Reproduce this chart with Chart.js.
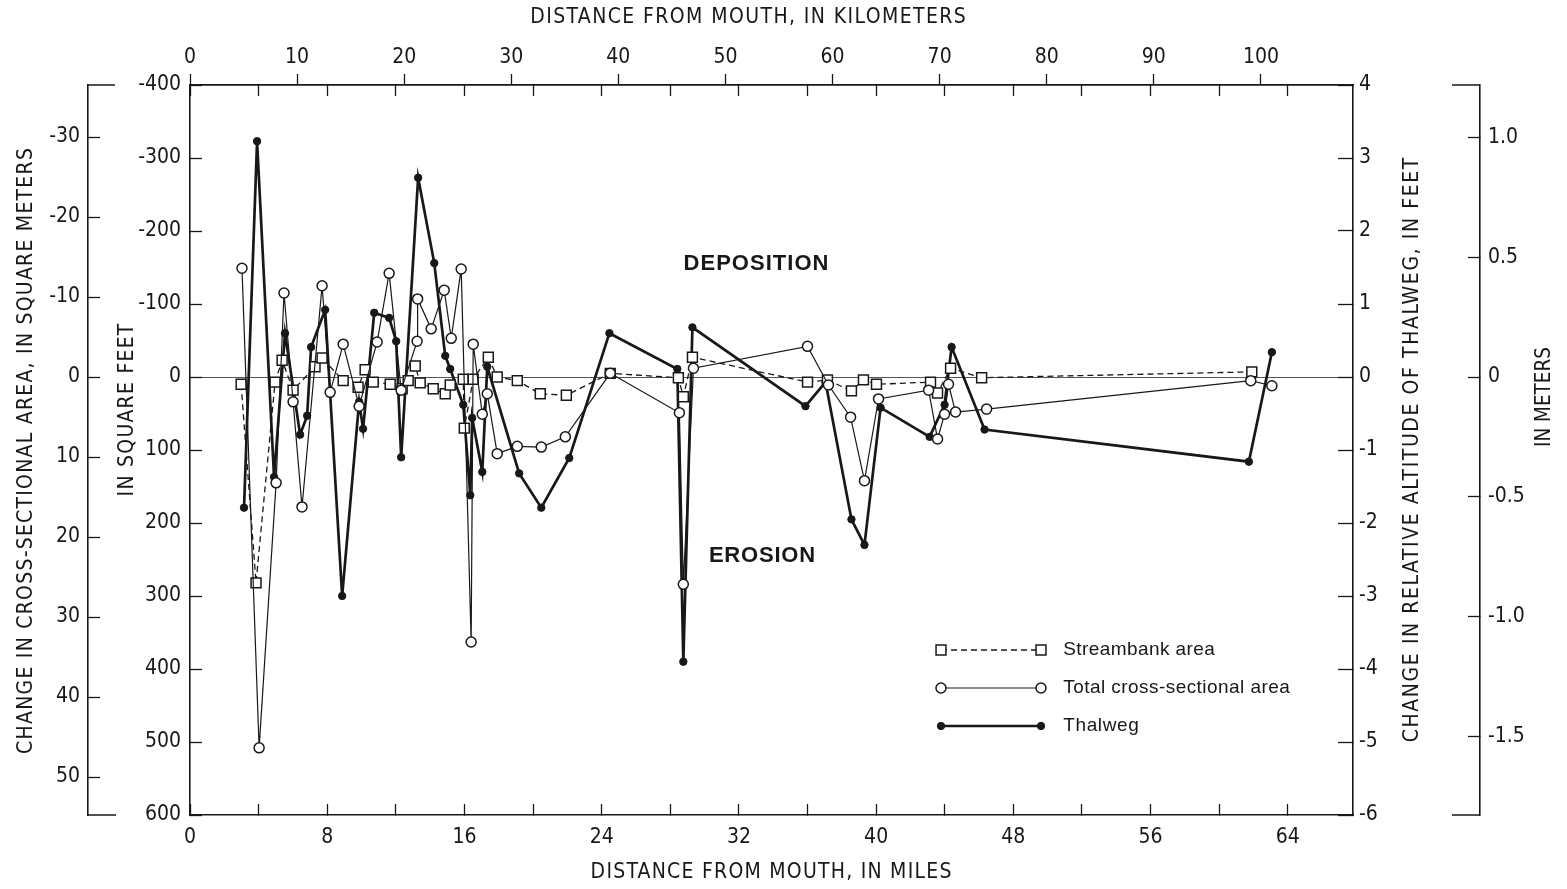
<!DOCTYPE html>
<html><head><meta charset="utf-8">
<script src="https://cdn.jsdelivr.net/npm/chart.js@4.4.1/dist/chart.umd.min.js"></script>
<style>html,body{margin:0;padding:0;background:#fff;}canvas{display:block;}</style>
</head><body>
<canvas id="c" width="1567" height="889"></canvas>
<script>
// ---------------- data ----------------
const streambankMiles = [2.98, 3.85, 4.96, 5.37, 6.01, 7.29, 7.70, 8.93, 9.80, 10.21, 10.68, 11.67, 12.37, 12.72, 13.13, 13.42, 14.18, 14.88, 15.17, 15.93, 15.99, 16.51, 17.39, 17.91, 19.08, 20.42, 21.94, 24.50, 28.47, 28.76, 29.29, 36.00, 37.16, 38.56, 39.26, 40.02, 43.17, 43.58, 44.34, 46.15, 61.90];
const streambankSqFt = [10, 282, 7, -23, 18, -14, -26, 5, 14, -10, 7, 10, 16, 5, -15, 8, 16, 23, 11, 3, 70, 3, -27, 0, 5, 23, 25, -5, 1, 27, -27, 7, 4, 19, 4, 10, 7, 22, -12, 1, -7];

const totalMiles = [3.03, 4.03, 5.02, 5.48, 6.01, 6.53, 7.70, 8.17, 8.93, 9.86, 10.91, 11.61, 12.31, 13.24, 13.27, 14.06, 14.82, 15.23, 15.81, 16.39, 16.51, 17.04, 17.33, 17.91, 19.08, 20.48, 21.88, 24.50, 28.53, 28.76, 29.35, 36.00, 37.22, 38.51, 39.32, 40.14, 43.06, 43.58, 43.99, 44.22, 44.63, 46.44, 61.84, 63.07];
const totalSqFt = [-149, 508, 145, -115, 34, 178, -125, 21, -45, 40, -48, -142, 18, -49, -107, -66, -119, -53, -148, 363, -45, 51, 23, 105, 95, 96, 82, -5, 49, 284, -12, -42, 11, 55, 142, 30, 18, 85, 51, 10, 48, 44, 5, 12];

const thalwegMiles = [3.15, 3.91, 4.90, 5.54, 6.42, 6.83, 7.06, 7.88, 8.87, 9.86, 10.09, 10.74, 11.61, 12.02, 12.31, 13.30, 14.24, 14.88, 15.17, 15.93, 16.34, 16.45, 17.04, 17.33, 19.19, 20.48, 22.11, 24.45, 28.41, 28.76, 29.29, 35.88, 37.05, 38.56, 39.32, 40.26, 43.12, 43.99, 44.40, 46.32, 61.73, 63.07];
const thalwegFeet = [-1.79, 3.23, -1.37, 0.60, -0.79, -0.53, 0.41, 0.92, -3.00, -0.34, -0.71, 0.88, 0.81, 0.49, -1.10, 2.73, 1.56, 0.29, 0.11, -0.38, -1.62, -0.56, -1.30, 0.14, -1.32, -1.79, -1.11, 0.60, 0.11, -3.90, 0.68, -0.40, -0.07, -1.95, -2.30, -0.42, -0.82, -0.38, 0.41, -0.72, -1.16, 0.34];

// tick values / labels
const mileTicks = [0, 4, 8, 12, 16, 20, 24, 28, 32, 36, 40, 44, 48, 52, 56, 60, 64];
const mileLabels = [0, 8, 16, 24, 32, 40, 48, 56, 64];
const kmLabels = [0, 10, 20, 30, 40, 50, 60, 70, 80, 90, 100];
const sqFtLabels = [-400, -300, -200, -100, 0, 100, 200, 300, 400, 500, 600];
const sqMeterLabels = [-30, -20, -10, 0, 10, 20, 30, 40, 50];
const feetLabels = [4, 3, 2, 1, 0, -1, -2, -3, -4, -5, -6];
const meterLabels = ['1.0', '0.5', '0', '-0.5', '-1.0', '-1.5'];

// ---------------- styling ----------------
const INK = '#181818';
const NARROW = "'Liberation Sans Narrow','DejaVu Sans Condensed','Arial Narrow','Roboto',sans-serif";
const PLAIN = "'Liberation Sans','DejaVu Sans','Roboto',sans-serif";
const tickFont = {family: NARROW, size: 21};

function pts(xs, ys) { return xs.map((x, i) => ({x: x, y: ys[i]})); }
function setTicks(values) { return s => { s.ticks = values.map(v => ({value: +v})); }; }

function fitText(ctx, text, x, y, w, rot, font) {
  ctx.save();
  ctx.translate(x, y);
  if (rot) ctx.rotate(rot);
  ctx.font = font;
  ctx.fillStyle = INK;
  ctx.textAlign = 'center';
  ctx.textBaseline = 'middle';
  const m = ctx.measureText(text).width;
  if (m > w) {
    ctx.scale(w / m, 1);
    ctx.fillText(text, 0, 0);
  } else {
    const ls = (w - m) / text.length;
    ctx.letterSpacing = ls + 'px';
    ctx.fillText(text, ls / 2, 0);
  }
  ctx.restore();
}

function drawMarker(ctx, ds, x, y) {
  ctx.save();
  ctx.lineWidth = ds.pointBorderWidth;
  ctx.strokeStyle = ds.pointBorderColor;
  ctx.fillStyle = ds.pointBackgroundColor;
  ctx.beginPath();
  if (ds.pointStyle === 'rect') {
    const s = Math.SQRT1_2 * ds.pointRadius;
    ctx.rect(x - s, y - s, 2 * s, 2 * s);
  } else {
    ctx.arc(x, y, ds.pointRadius, 0, Math.PI * 2);
  }
  ctx.fill();
  ctx.stroke();
  ctx.restore();
}

const decor = {
  id: 'decor',
  beforeDraw(chart) {
    const {ctx, width, height} = chart;
    ctx.save(); ctx.fillStyle = '#fff'; ctx.fillRect(0, 0, width, height); ctx.restore();
  },
  afterDraw(chart) {
    const {ctx, chartArea: ca, scales} = chart;
    const titleFont = '21px ' + NARROW;
    // axis titles
    fitText(ctx, 'DISTANCE FROM MOUTH, IN KILOMETERS', 748, 18, 437, 0, titleFont);
    fitText(ctx, 'DISTANCE FROM MOUTH, IN MILES', 771, 873, 362, 0, titleFont);
    fitText(ctx, 'CHANGE IN CROSS-SECTIONAL AREA, IN SQUARE METERS', 27, 451, 607, -Math.PI / 2, titleFont);
    fitText(ctx, 'IN SQUARE FEET', 128, 410, 174, -Math.PI / 2, titleFont);
    fitText(ctx, 'CHANGE IN RELATIVE ALTITUDE OF THALWEG, IN FEET', 1413, 450, 586, -Math.PI / 2, titleFont);
    fitText(ctx, 'IN METERS', 1545, 397, 100, -Math.PI / 2, titleFont);

    // end stubs of the two outer metric axes
    ctx.save();
    ctx.strokeStyle = INK; ctx.lineWidth = 1.6;
    const lm = scales.ym.right, rm = scales.ymr.left;
    ctx.beginPath();
    ctx.moveTo(lm, ca.top); ctx.lineTo(lm + 27, ca.top);
    ctx.moveTo(lm, ca.bottom); ctx.lineTo(lm + 28, ca.bottom);
    ctx.moveTo(rm, ca.top); ctx.lineTo(rm - 28, ca.top);
    ctx.moveTo(rm, ca.bottom); ctx.lineTo(rm - 28, ca.bottom);
    ctx.stroke();
    ctx.restore();

    // region labels
    fitText(ctx, 'DEPOSITION', 756, 264, 146, 0, 'bold 22px ' + PLAIN);
    fitText(ctx, 'EROSION', 762, 556, 107, 0, 'bold 22px ' + PLAIN);

    // legend
    const rows = [[0, 650, 152], [1, 688, 227], [2, 726, 76]];
    const order = chart.data.datasets;
    rows.forEach(([i, y, tw]) => {
      const ds = order[i];
      const x1 = 941, x2 = 1041;
      ctx.save();
      ctx.strokeStyle = ds.borderColor;
      ctx.lineWidth = ds.borderWidth;
      ctx.setLineDash(ds.borderDash || []);
      ctx.beginPath(); ctx.moveTo(x1, y); ctx.lineTo(x2, y); ctx.stroke();
      ctx.restore();
      drawMarker(ctx, ds, x1, y);
      drawMarker(ctx, ds, x2, y);
      fitText(ctx, ds.label, 1063 + tw / 2, y, tw, 0, '19px ' + PLAIN);
    });
  }
};

const gridBase = {drawOnChartArea: false, drawTicks: true, tickColor: INK, tickWidth: 1.3};
const borderBase = {color: INK, width: 1.6};

new Chart(document.getElementById('c'), {
  type: 'scatter',
  data: {
    datasets: [
      {
        label: 'Streambank area', data: pts(streambankMiles, streambankSqFt),
        xAxisID: 'x', yAxisID: 'y', showLine: true,
        borderColor: INK, borderWidth: 1.3, borderDash: [6, 4],
        pointStyle: 'rect', pointRadius: 7, pointBackgroundColor: '#fff',
        pointBorderColor: INK, pointBorderWidth: 1.5, order: 1
      },
      {
        label: 'Total cross-sectional area', data: pts(totalMiles, totalSqFt),
        xAxisID: 'x', yAxisID: 'y', showLine: true,
        borderColor: INK, borderWidth: 1.2,
        pointStyle: 'circle', pointRadius: 5, pointBackgroundColor: '#fff',
        pointBorderColor: INK, pointBorderWidth: 1.5, order: 0
      },
      {
        label: 'Thalweg', data: pts(thalwegMiles, thalwegFeet),
        xAxisID: 'x', yAxisID: 'yft', showLine: true,
        borderColor: INK, borderWidth: 2.7,
        pointStyle: 'circle', pointRadius: 3.7, pointBackgroundColor: INK,
        pointBorderColor: INK, pointBorderWidth: 1, order: 2
      }
    ]
  },
  options: {
    responsive: false, animation: false, events: [],
    layout: {padding: 0},
    plugins: {legend: {display: false}, tooltip: {enabled: false}},
    scales: {
      x: {
        type: 'linear', position: 'bottom', weight: 0, min: 0, max: 67.8,
        afterBuildTicks: setTicks(mileTicks),
        ticks: {autoSkip: false, maxRotation: 0, padding: 21, color: INK, font: tickFont,
          callback: v => mileLabels.includes(v) ? String(v) : ''},
        grid: Object.assign({}, gridBase, {tickLength: -11}),
        border: borderBase,
        afterFit: s => { s.height = 74; }
      },
      xtop: {
        type: 'linear', position: 'top', weight: 0, min: 0, max: 67.8,
        afterBuildTicks: setTicks(mileTicks),
        ticks: {display: false},
        grid: Object.assign({}, gridBase, {tickLength: -11}),
        border: borderBase,
        afterFit: s => { s.height = 0; }
      },
      xkm: {
        type: 'linear', position: 'top', weight: 1, min: 0, max: 108.6,
        afterBuildTicks: setTicks(kmLabels),
        ticks: {autoSkip: false, maxRotation: 0, padding: 4, color: INK, font: tickFont},
        grid: Object.assign({}, gridBase, {tickLength: 11}),
        border: borderBase,
        afterFit: s => { s.height = 85; }
      },
      y: {
        type: 'linear', position: 'left', weight: 0, min: -400, max: 600, reverse: true,
        afterBuildTicks: setTicks(sqFtLabels),
        ticks: {padding: 21, color: INK, font: tickFont},
        grid: {drawOnChartArea: true, drawTicks: true, tickLength: -12, tickColor: INK, tickWidth: 1.3,
          lineWidth: 1, color: c => (c.tick && c.tick.value === 0) ? '#555' : 'rgba(0,0,0,0)'},
        border: borderBase,
        afterFit: s => { s.width = 102; }
      },
      ym: {
        type: 'linear', position: 'left', weight: 1, min: -36.5, max: 54.75, reverse: true,
        afterBuildTicks: setTicks(sqMeterLabels),
        ticks: {padding: 20, color: INK, font: tickFont},
        grid: Object.assign({}, gridBase, {tickLength: -12}),
        border: borderBase,
        afterFit: s => { s.width = 88; }
      },
      yft: {
        type: 'linear', position: 'right', weight: 0, min: -6, max: 4,
        afterBuildTicks: setTicks(feetLabels),
        ticks: {padding: 21, color: INK, font: tickFont},
        grid: Object.assign({}, gridBase, {tickLength: -15}),
        border: borderBase,
        afterFit: s => { s.width = 127; }
      },
      ymr: {
        type: 'linear', position: 'right', weight: 1, min: -6 / 3.2808, max: 4 / 3.2808,
        afterBuildTicks: setTicks(meterLabels),
        ticks: {padding: 20, color: INK, font: tickFont,
          callback: v => meterLabels.find(l => +l === v)},
        grid: Object.assign({}, gridBase, {tickLength: -12}),
        border: borderBase,
        afterFit: s => { s.width = 87; }
      }
    }
  },
  plugins: [decor]
});
</script>
</body></html>
